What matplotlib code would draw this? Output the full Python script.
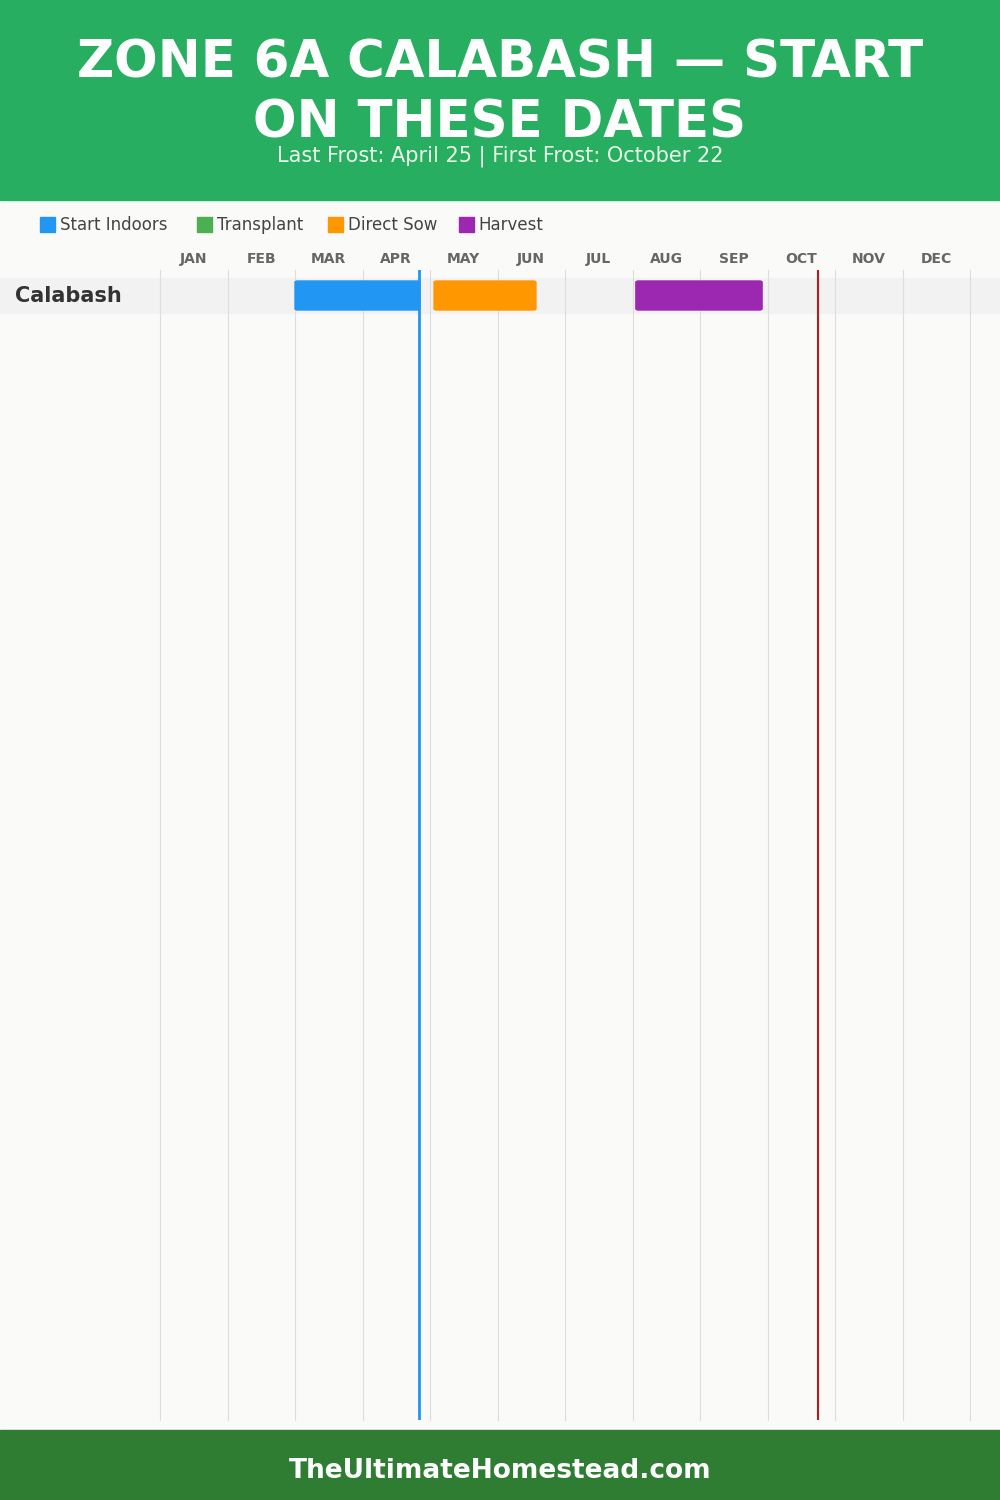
import matplotlib
matplotlib.use("Agg")
import matplotlib.pyplot as plt
from matplotlib.patches import FancyBboxPatch, Rectangle

months = ["JAN","FEB","MAR","APR","MAY","JUN","JUL","AUG","SEP","OCT","NOV","DEC"]
crops = ["Calabash"]
start_indoors = [(2.0, 3.85)]
direct_sow = [(4.06, 5.57)]
harvest = [(7.05, 8.92)]
last_frost = 3.83
first_frost = 9.75
legend_items = [("Start Indoors", "#2196f3"), ("Transplant", "#4caf50"),
                ("Direct Sow", "#ff9800"), ("Harvest", "#9c27b0")]

W, H = 1000, 1500
fig = plt.figure(figsize=(10, 15), dpi=100)
fig.patch.set_facecolor("#fafaf9")
bg = fig.add_axes([0, 0, 1, 1]); bg.set_xlim(0, W); bg.set_ylim(H, 0); bg.axis("off")
bg.add_patch(Rectangle((0, 0), W, 200, color="#27ae60"))
bg.add_patch(Rectangle((0, 1430), W, 70, color="#2e7d32"))
bg.text(500, 64, "ZONE 6A CALABASH — START", ha="center", va="center", color="white",
        fontsize=37, fontweight="heavy", family="DejaVu Sans")
bg.text(500, 124, "ON THESE DATES", ha="center", va="center", color="white",
        fontsize=37, fontweight="heavy", family="DejaVu Sans")
bg.text(500, 156, "Last Frost: April 25 | First Frost: October 22", ha="center", va="center",
        color="#e8f5e9", fontsize=15, family="DejaVu Sans")
bg.text(500, 1471, "TheUltimateHomestead.com", ha="center", va="center", color="white",
        fontsize=19, fontweight="bold", family="DejaVu Sans")
x = 40
for name, c in legend_items:
    bg.add_patch(Rectangle((x, 217), 15, 15, color=c))
    bg.text(x + 20, 225, name, va="center", fontsize=12, color="#444")
    x += 20 + len(name) * 8.6 + 25
for i, crop in enumerate(crops):
    yc = 295 + i * 40
    bg.add_patch(Rectangle((0, yc - 17), W, 35, color="#f2f2f2", zorder=0))
    bg.text(15, yc + 1, crop, va="center", fontsize=15, fontweight="bold", color="#333")

ax = fig.add_axes([160/W, (H-1420)/H, 810/W, (1420-270)/H])
ax.set_xlim(0, 12); ax.set_ylim(1420, 270)
ax.patch.set_alpha(0); ax.axis("off")
for m in range(13):
    ax.axvline(m, color="#dddddd", lw=0.8, zorder=1, clip_on=False)
for m, name in enumerate(months):
    ax.text(m + 0.5, 259, name, ha="center", va="center", fontsize=10, fontweight="bold",
            color="#666", clip_on=False)
for i in range(len(crops)):
    yc = 295 + i * 40
    for series, c in [(start_indoors, "#2196f3"), (direct_sow, "#ff9800"), (harvest, "#9c27b0")]:
        s, e = series[i]
        ax.add_patch(FancyBboxPatch((s, yc - 14), e - s, 29, boxstyle="round,pad=0,rounding_size=0.04",
                                    mutation_aspect=30, color=c, zorder=3))
ax.axvline(last_frost, color="#2196f3", lw=2, zorder=4)
ax.axvline(first_frost, color="#b71c1c", lw=1.5, zorder=4)
fig.savefig("out.png", dpi=100)
